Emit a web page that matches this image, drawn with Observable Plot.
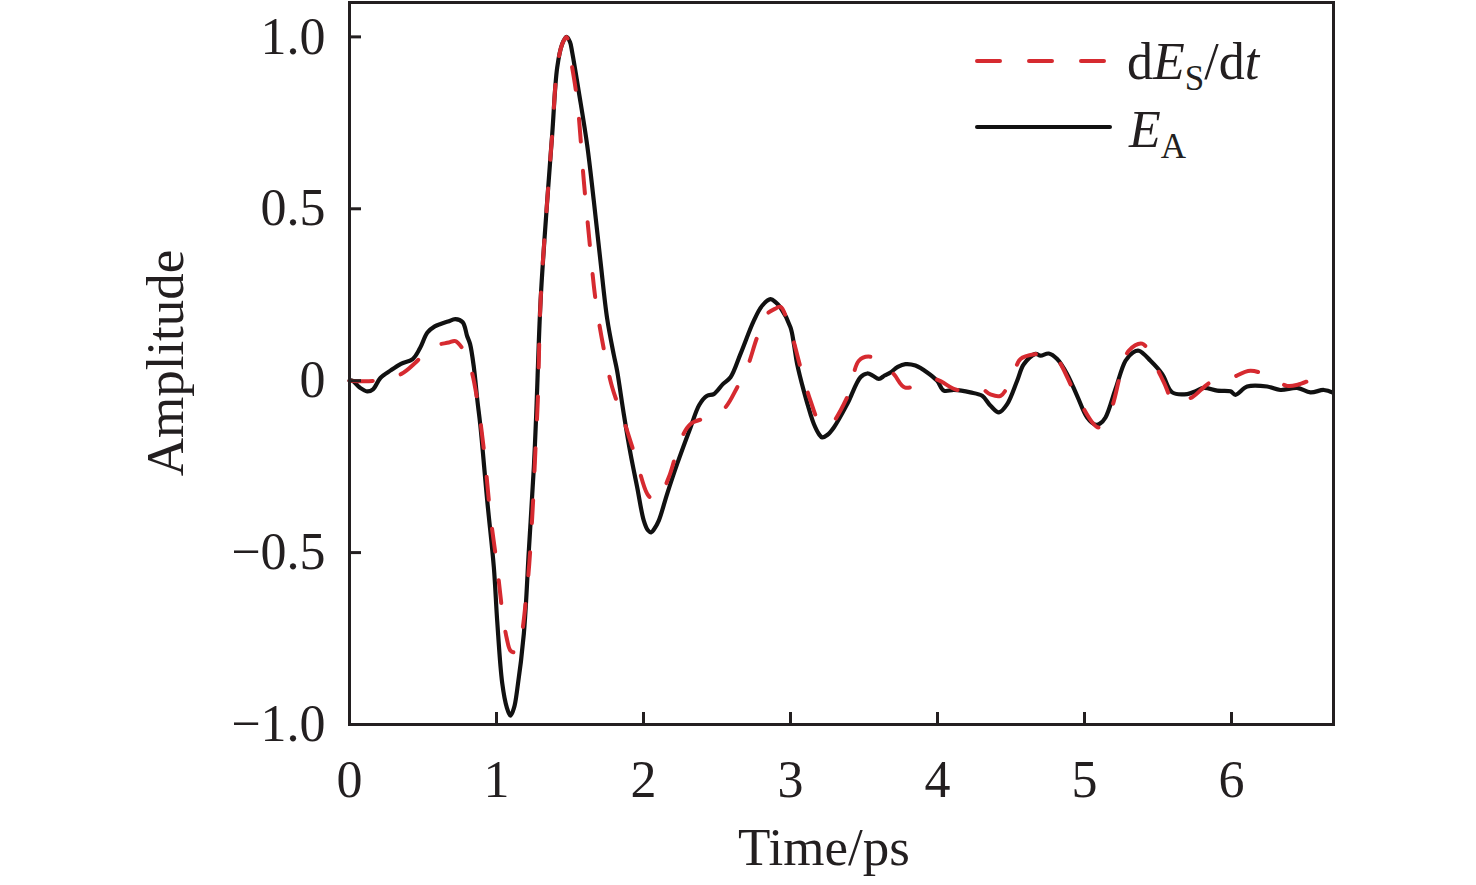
<!DOCTYPE html>
<html><head><meta charset="utf-8">
<script src="https://cdn.jsdelivr.net/npm/d3@7"></script>
<script src="https://cdn.jsdelivr.net/npm/@observablehq/plot@0.6"></script>
<style>body{margin:0;background:#fff} svg{display:block}</style>
</head><body><div id="chart"></div>
<script>
// E_A (solid black)
const timeA = [0.0,0.02,0.07,0.12,0.16,0.21,0.28,0.35,0.43,0.48,0.53,0.58,0.62,0.67,0.72,0.77,0.80,0.82,0.846,0.87,0.89,0.937,0.982,1.005,1.039,1.07,1.095,1.12,1.14,1.186,1.22,1.254,1.27,1.30,1.345,1.379,1.413,1.447,1.476,1.50,1.515,1.56,1.617,1.662,1.707,1.753,1.798,1.82,1.866,1.912,1.957,2.002,2.03,2.052,2.075,2.104,2.161,2.229,2.32,2.38,2.433,2.478,2.54,2.592,2.66,2.75,2.807,2.864,2.9,2.932,3.0,3.023,3.045,3.09,3.136,3.159,3.193,3.216,3.25,3.295,3.386,3.476,3.522,3.56,3.601,3.64,3.68,3.73,3.782,3.85,3.93,3.997,4.043,4.112,4.224,4.304,4.361,4.418,4.474,4.542,4.587,4.667,4.701,4.757,4.814,4.882,4.95,5.018,5.075,5.105,5.143,5.211,5.279,5.33,5.37,5.449,5.529,5.597,5.699,5.76,5.812,5.903,5.993,6.027,6.107,6.243,6.333,6.447,6.537,6.628,6.685];
const ampA = [0.0,0.0,-0.02,-0.031,-0.025,0.008,0.03,0.049,0.063,0.095,0.14,0.158,0.165,0.172,0.179,0.17,0.13,0.107,0.039,-0.058,-0.13,-0.349,-0.543,-0.70,-0.88,-0.95,-0.974,-0.95,-0.901,-0.736,-0.494,-0.252,-0.1,0.233,0.523,0.717,0.911,0.979,1.0,0.985,0.955,0.84,0.685,0.523,0.349,0.18,0.075,0.03,-0.097,-0.213,-0.31,-0.407,-0.435,-0.441,-0.43,-0.407,-0.329,-0.242,-0.136,-0.07,-0.044,-0.039,-0.01,0.01,0.078,0.174,0.218,0.237,0.228,0.213,0.155,0.107,0.049,-0.029,-0.097,-0.126,-0.155,-0.165,-0.158,-0.136,-0.068,0.01,0.021,0.015,0.005,0.015,0.024,0.04,0.048,0.044,0.024,0.0,-0.029,-0.027,-0.034,-0.044,-0.073,-0.092,-0.068,0.0,0.048,0.078,0.073,0.079,0.063,0.019,-0.044,-0.107,-0.128,-0.125,-0.107,-0.024,0.058,0.082,0.087,0.058,0.019,-0.034,-0.039,-0.03,-0.021,-0.029,-0.031,-0.041,-0.017,-0.017,-0.027,-0.021,-0.034,-0.027,-0.034];

// dE_S/dt (dashed red)
const timeS = [0.0,0.18,0.35,0.45,0.55,0.676,0.72,0.79,0.83,0.87,0.914,0.96,1.005,1.039,1.07,1.095,1.125,1.152,1.209,1.243,1.265,1.281,1.30,1.345,1.379,1.413,1.447,1.476,1.503,1.549,1.594,1.628,1.673,1.73,1.787,1.866,1.946,2.025,2.06,2.093,2.172,2.252,2.32,2.433,2.547,2.638,2.706,2.773,2.841,2.9,2.932,3.0,3.068,3.136,3.193,3.26,3.386,3.465,3.53,3.601,3.703,3.78,3.975,4.134,4.29,4.36,4.429,4.508,4.565,4.677,4.75,4.814,4.95,5.097,5.177,5.245,5.301,5.392,5.483,5.54,5.608,5.65,5.733,5.857,5.982,6.129,6.265,6.378,6.45,6.526];
const ampS = [0.0,0.0,0.019,0.053,0.097,0.111,0.115,0.078,0.029,-0.058,-0.2,-0.397,-0.543,-0.669,-0.75,-0.785,-0.79,-0.775,-0.6,-0.397,-0.2,-0.058,0.233,0.523,0.717,0.911,0.979,1.0,0.94,0.814,0.581,0.426,0.238,0.092,-0.019,-0.116,-0.223,-0.329,-0.345,-0.349,-0.281,-0.174,-0.126,-0.107,-0.082,-0.019,0.039,0.126,0.194,0.21,0.215,0.145,0.039,-0.058,-0.116,-0.13,-0.048,0.058,0.07,0.058,0.019,-0.02,0.005,-0.027,-0.021,-0.04,-0.044,0.01,0.063,0.078,0.08,0.063,-0.048,-0.136,-0.087,0.019,0.087,0.108,0.044,-0.005,-0.063,-0.06,-0.048,-0.005,0.005,0.029,0.01,-0.015,-0.012,0.0];

const xTicks = [0,1,2,3,4,5,6];
const yTicks = [-1,-0.5,0,0.5,1];
const yTickLabels = ["\u22121.0","\u22120.5","0","0.5","1.0"];
const xLabel = "Time/ps";
const yLabel = "Amplitude";

const dataA = timeA.map((t,i)=>({t, v: ampA[i]}));
const dataS = timeS.map((t,i)=>({t, v: ampS[i]}));

const RED = "#d62a30";
const INK = "#231f20";
const font = "'Liberation Serif','Times New Roman',serif";

const plot = Plot.plot({
  width: 1476, height: 885,
  marginLeft: 349, marginRight: 143, marginTop: 2, marginBottom: 161,
  x: {domain: [0, 6.694]},
  y: {domain: [-1, 1.1]},
  style: {fontFamily: font, fontSize: "52px", background: "#fff", color: INK},
  marks: [
    Plot.line(dataA, {x: "t", y: "v", stroke: "#111", strokeWidth: 4.2, curve: "catmull-rom"}),
    Plot.line(dataS, {x: "t", y: "v", stroke: RED, strokeWidth: 4, strokeDasharray: "23,29", strokeLinecap: "round", curve: "catmull-rom"}),
    Plot.axisX({ticks: xTicks, tickSize: 12, dy: -12, tickFormat: () => "", label: null, strokeWidth: 3, stroke: INK}),
    Plot.axisY({ticks: yTicks, tickSize: 12, dx: 12, tickFormat: () => "", label: null, strokeWidth: 3, stroke: INK}),
    Plot.axisX({ticks: xTicks, tickSize: 0, tickPadding: 36, tickFormat: d => String(d), label: null, fill: INK}),
    Plot.axisY({ticks: yTicks, tickSize: 0, tickPadding: 24, tickFormat: d => yTickLabels[yTicks.indexOf(d)], label: null, fill: INK}),
    Plot.frame({stroke: INK, strokeWidth: 3})
  ]
});

document.getElementById("chart").appendChild(plot);

const svg = d3.select(plot);
svg.append("text").attr("x", 824).attr("y", 865).attr("text-anchor", "middle")
  .attr("font-family", font).attr("font-size", 53).attr("fill", INK).text(xLabel);
svg.append("text").attr("transform", "translate(183,363) rotate(-90)").attr("text-anchor", "middle")
  .attr("font-family", font).attr("font-size", 53).attr("fill", INK).text(yLabel);

// legend
const lg = svg.append("g").attr("font-family", font).attr("fill", INK).attr("text-anchor", "start");
lg.append("line").attr("x1", 977).attr("x2", 1105).attr("y1", 61).attr("y2", 61)
  .attr("stroke", RED).attr("stroke-width", 4).attr("stroke-dasharray", "23,29").attr("stroke-linecap", "round");
lg.append("line").attr("x1", 977).attr("x2", 1110).attr("y1", 127).attr("y2", 127)
  .attr("stroke", "#111").attr("stroke-width", 4).attr("stroke-linecap", "round");
const t1 = lg.append("text").attr("x", 1127).attr("y", 79).attr("font-size", 52).attr("text-anchor", "start");
t1.append("tspan").text("d");
t1.append("tspan").attr("font-style", "italic").text("E");
t1.append("tspan").attr("font-size", 35).attr("dy", 11).text("S");
t1.append("tspan").attr("dy", -11).text("/d");
t1.append("tspan").attr("font-style", "italic").text("t");
const t2 = lg.append("text").attr("x", 1129).attr("y", 147).attr("font-size", 52).attr("text-anchor", "start");
t2.append("tspan").attr("font-style", "italic").text("E");
t2.append("tspan").attr("font-size", 35).attr("dy", 11).text("A");
</script>
</body></html>
